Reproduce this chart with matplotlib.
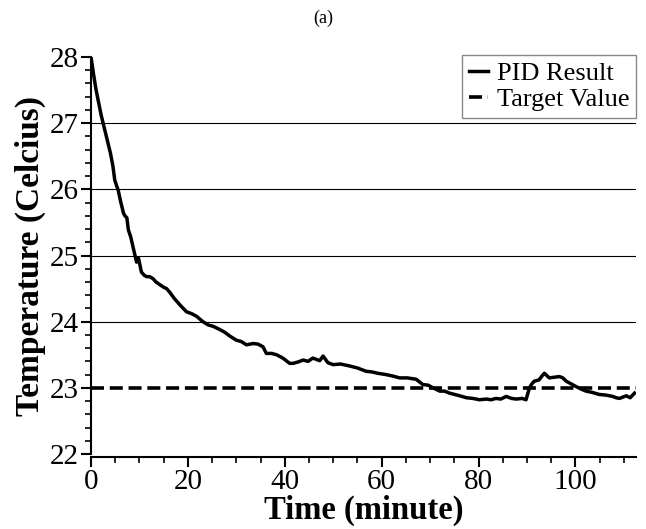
import numpy as np
import matplotlib
matplotlib.use('Agg')
from matplotlib import pyplot as plt
from matplotlib.ticker import MultipleLocator

# PID 결과 (시간[분], 온도[섭씨]) - 그림에서 읽은 값
time_min = [0.0, 0.5, 1.0, 1.6, 2.1, 2.5, 3.0, 3.5, 4.0, 4.5, 4.9, 5.3, 5.6, 6.1, 6.7,
            7.0, 7.4, 7.7, 8.2, 8.7, 9.4, 9.8, 10.4, 11.0, 11.5, 12.1, 12.8, 13.4, 14.2,
            15.0, 15.6, 16.3, 17.2, 18.4, 19.7, 20.8, 21.8, 23.1, 24.2, 25.2, 26.6, 27.6,
            28.7, 30.0, 31.0, 32.1, 33.5, 34.5, 35.5, 36.2, 37.3, 38.3, 39.6, 41.0, 41.7,
            42.7, 43.8, 44.8, 45.8, 47.2, 47.9, 48.9, 50.0, 51.5, 53.4, 55.0, 56.8, 58.0,
            59.2, 60.9, 62.2, 63.7, 65.3, 67.1, 68.5, 69.6, 70.6, 72.0, 73.0, 74.0, 76.1,
            77.5, 78.8, 80.2, 81.6, 82.6, 83.6, 84.6, 85.7, 86.8, 87.8, 89.0, 89.8, 90.5,
            91.0, 91.5, 92.5, 93.1, 93.6, 94.6, 95.6, 96.7, 97.4, 98.1, 99.1, 100.1, 101.2,
            102.2, 103.5, 104.9, 106.3, 107.7, 108.4, 109.1, 109.8, 110.5, 111.3, 112.2]
pid_temp = [28.0, 27.75, 27.52, 27.3, 27.12, 27.0, 26.85, 26.7, 26.55, 26.36, 26.14, 26.05,
            25.99, 25.82, 25.64, 25.6, 25.57, 25.39, 25.28, 25.12, 24.9, 24.96, 24.75, 24.7,
            24.68, 24.68, 24.65, 24.6, 24.56, 24.52, 24.5, 24.44, 24.35, 24.25, 24.15, 24.12,
            24.08, 24.0, 23.95, 23.93, 23.88, 23.84, 23.78, 23.72, 23.7, 23.65, 23.67, 23.66,
            23.62, 23.52, 23.52, 23.5, 23.45, 23.37, 23.37, 23.39, 23.42, 23.4, 23.45, 23.41,
            23.48, 23.38, 23.35, 23.36, 23.33, 23.3, 23.25, 23.24, 23.22, 23.2, 23.18, 23.15,
            23.15, 23.13, 23.05, 23.04, 23.0, 22.95, 22.95, 22.92, 22.88, 22.85, 22.84, 22.82,
            22.83, 22.82, 22.84, 22.83, 22.87, 22.84, 22.83, 22.84, 22.82, 23.0, 23.06, 23.1,
            23.12, 23.18, 23.22, 23.15, 23.16, 23.17, 23.15, 23.1, 23.06, 23.02, 22.98, 22.95,
            22.93, 22.9, 22.89, 22.87, 22.85, 22.84, 22.86, 22.88, 22.85, 22.92]
target_temp = 23.0

plt.rcParams['font.family'] = ['Liberation Serif', 'DejaVu Serif']

fig = plt.figure(figsize=(6.46, 5.29), dpi=100)
ax = fig.add_axes([0.1409, 0.1418, 0.8436, 0.7504])

# 가로 격자선 (정수 온도)
for yv in [24, 25, 26, 27]:
    ax.axhline(yv, color='black', lw=0.8, zorder=1)

ax.plot(time_min, pid_temp, color='black', lw=2.5, label='PID Result', zorder=3)
ax.axhline(target_temp, color='black', lw=2.6, dashes=(3.6, 1.6),
           label='Target Value', zorder=2)

ax.set_xlim(0, 112.5)
ax.set_ylim(22, 28)
ax.xaxis.set_major_locator(MultipleLocator(20))
ax.xaxis.set_minor_locator(MultipleLocator(5))
ax.yaxis.set_major_locator(MultipleLocator(1))
ax.yaxis.set_minor_locator(MultipleLocator(0.2))

for s in ['top', 'right']:
    ax.spines[s].set_visible(False)
ax.spines['left'].set_linewidth(1.5)
ax.spines['bottom'].set_linewidth(1.5)
ax.spines['bottom'].set_position(('outward', 2))

ax.tick_params(which='major', direction='out', length=7, width=1.5, labelsize=21, pad=2)
ax.tick_params(which='minor', direction='out', length=4, width=1.2)

ax.set_xlabel('Time (minute)', fontsize=23.5, fontweight='bold')
ax.set_ylabel('Temperature (Celcius)', fontsize=24, fontweight='bold')
ax.xaxis.set_label_coords(0.5, -0.103)
ax.yaxis.set_label_coords(-0.082, 0.5)

leg = ax.legend(loc='upper right', fontsize=19, handlelength=0.7, handletextpad=0.35,
                borderpad=0.25, labelspacing=0.1, fancybox=False, framealpha=1,
                borderaxespad=0, bbox_to_anchor=(1.0, 1.005))
leg.get_frame().set_edgecolor('#888888')
leg.get_frame().set_linewidth(1.0)

fig.text(0.5, 0.965, '(a)', ha='center', va='center', fontsize=13)

fig.savefig('out.png', dpi=100)
